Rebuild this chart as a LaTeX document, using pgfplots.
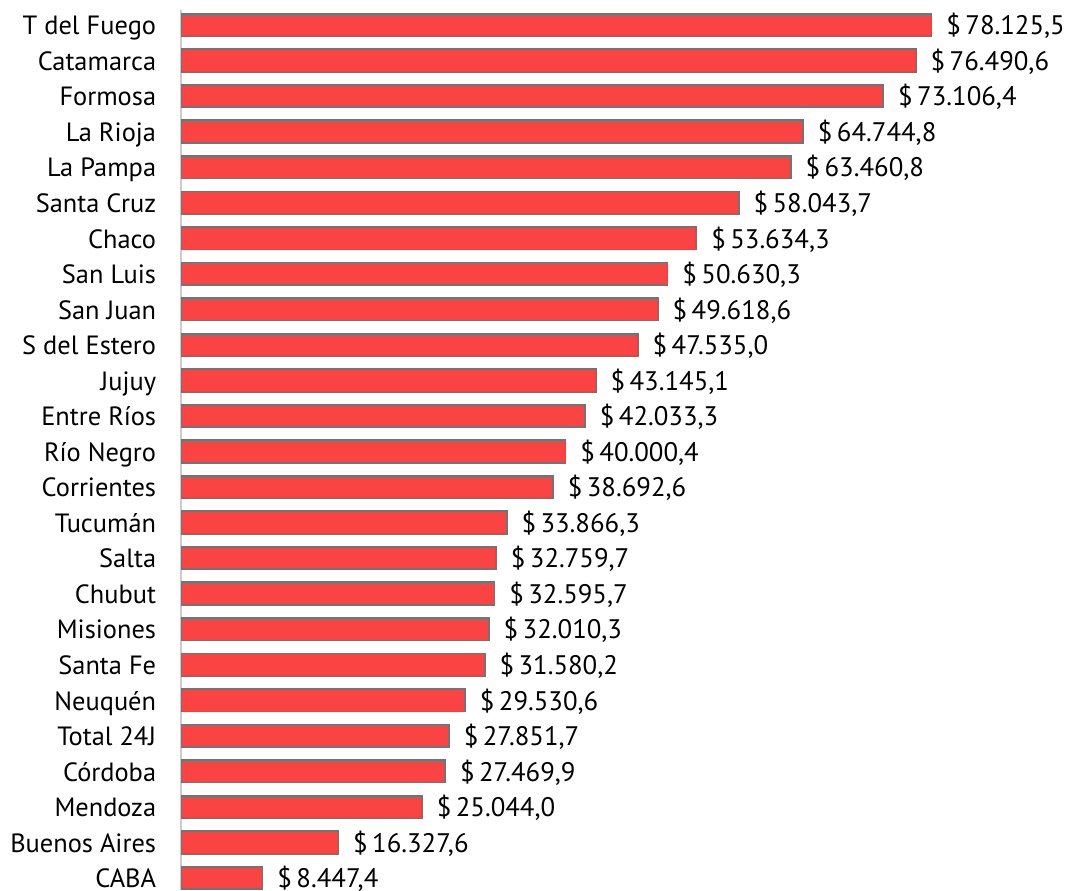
\documentclass[border=0pt]{standalone}
\usepackage{pgfplots}
\pgfplotsset{compat=1.18}
\usepackage{fontspec}
\setmainfont{PT Sans}
\definecolor{barred}{RGB}{250,68,68}
\definecolor{barborder}{RGB}{115,115,115}
\begin{document}
\begin{tikzpicture}
\begin{axis}[
  scale only axis,
  width=432pt, height=440pt,
  xmin=0, xmax=90000,
  ymin=0.578, ymax=25.34,
  y dir=reverse,
  axis x line=none,
  axis y line*=left,
  y axis line style={draw=gray!40, line width=1pt},
  ytick={1,...,25},
  yticklabels={T del Fuego,Catamarca,Formosa,La Rioja,La Pampa,Santa Cruz,Chaco,San Luis,San Juan,S del Estero,Jujuy,Entre Ríos,Río Negro,Corrientes,Tucumán,Salta,Chubut,Misiones,Santa Fe,Neuquén,Total 24J,Córdoba,Mendoza,Buenos Aires,CABA},
  major tick length=0pt,
  ytick style={draw=none},
  yticklabel style={font=\fontsize{13.2}{15}\selectfont, anchor=east, inner sep=0pt, xshift=-12.5pt, yshift=-1.5pt, text height=9.4pt, text depth=2.6pt},
  clip=false,
  xbar, bar width=11.25pt,
  point meta=explicit symbolic,
  nodes near coords={\$\hspace{2.2pt}\pgfplotspointmeta},
  every node near coord/.append style={font=\fontsize{13.4}{15}\selectfont, anchor=west, inner sep=0pt, xshift=7pt, yshift=-1.5pt, text=black, text height=9.4pt, text depth=2.6pt},
]
\addplot[fill=barred, draw=barborder, line width=0.9pt] coordinates {
(78125.5,1) [78.125,5]
(76490.6,2) [76.490,6]
(73106.4,3) [73.106,4]
(64744.8,4) [64.744,8]
(63460.8,5) [63.460,8]
(58043.7,6) [58.043,7]
(53634.3,7) [53.634,3]
(50630.3,8) [50.630,3]
(49618.6,9) [49.618,6]
(47535.0,10) [47.535,0]
(43145.1,11) [43.145,1]
(42033.3,12) [42.033,3]
(40000.4,13) [40.000,4]
(38692.6,14) [38.692,6]
(33866.3,15) [33.866,3]
(32759.7,16) [32.759,7]
(32595.7,17) [32.595,7]
(32010.3,18) [32.010,3]
(31580.2,19) [31.580,2]
(29530.6,20) [29.530,6]
(27851.7,21) [27.851,7]
(27469.9,22) [27.469,9]
(25044.0,23) [25.044,0]
(16327.6,24) [16.327,6]
(8447.4,25) [8.447,4]
};
\coordinate (A) at (axis cs:0,25.34);
\coordinate (B) at (axis cs:0,0.578);
\end{axis}
\pgfresetboundingbox
\useasboundingbox ([xshift=-90.75pt]A) rectangle ([xshift=451.75pt,yshift=5pt]B);
\end{tikzpicture}
\end{document}
